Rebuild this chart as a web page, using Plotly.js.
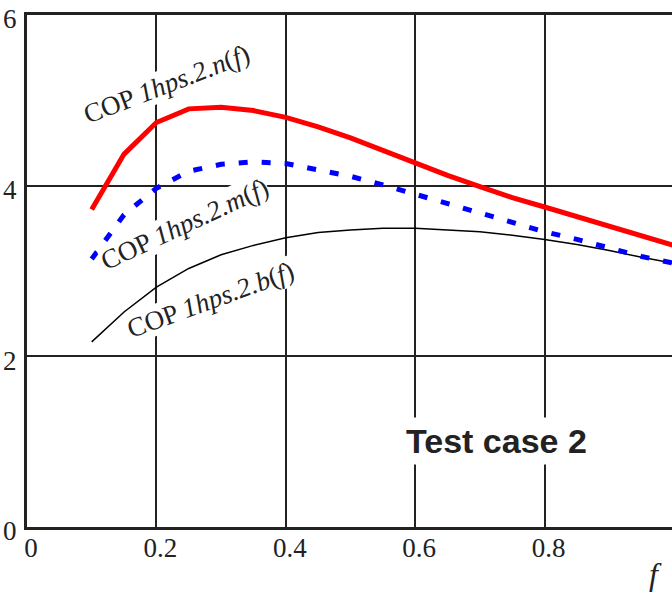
<!DOCTYPE html>
<html>
<head>
<meta charset="utf-8">
<script src="https://cdn.plot.ly/plotly-3.0.1.min.js"></script>
<style>
html,body{margin:0;padding:0;overflow:hidden;background:#fff;}
#chart{width:676px;height:596px;}
</style>
</head>
<body>
<div id="chart"></div>
<script>
const f = [0.1,0.15,0.2,0.25,0.3,0.35,0.4,0.45,0.5,0.55,0.6,0.65,0.7,0.75,0.8,0.85,0.9,0.95,1.0];
const copN = [3.72,4.37,4.74,4.90,4.92,4.88,4.80,4.69,4.56,4.41,4.26,4.12,3.99,3.86,3.75,3.64,3.52,3.41,3.30];
const copM = [3.14,3.66,3.97,4.17,4.25,4.28,4.26,4.19,4.11,4.01,3.90,3.79,3.67,3.57,3.46,3.37,3.27,3.17,3.09];
const copB = [2.17,2.52,2.81,3.03,3.19,3.30,3.39,3.45,3.48,3.50,3.50,3.48,3.46,3.42,3.37,3.31,3.24,3.16,3.09];
const xTicks = [0,0.2,0.4,0.6,0.8];
const xTickText = ['0','0.2','0.4','0.6','0.8'];
const yTicks = [0,2,4,6];
const yTickText = ['0','2','4','6'];

const serif = 'Liberation Serif, Times New Roman, serif';
const traces = [
  {x:f, y:copB, mode:'lines', line:{color:'#000', width:1.5}, hoverinfo:'none'},
  {x:f, y:copM, mode:'lines', line:{color:'#0000ff', width:5, dash:'9px,14px'}, hoverinfo:'none'},
  {x:f, y:copN, mode:'lines', line:{color:'#ff0000', width:5}, hoverinfo:'none'}
];
const layout = {
  width:676, height:596,
  margin:{l:27, r:2, t:15, b:69},
  paper_bgcolor:'#fff', plot_bgcolor:'#fff',
  showlegend:false,
  xaxis:{range:[0,1], tickvals:xTicks, ticktext:xTickText, showgrid:true, gridcolor:'#222', gridwidth:2,
    zeroline:false, showline:true, linecolor:'#222', linewidth:3, mirror:true, ticks:'',
    tickfont:{family:serif, size:27, color:'#222'}, ticklabelshift:4, ticklabelstandoff:-5, ticklabeloverflow:'allow'},
  yaxis:{range:[0,6], tickvals:yTicks, ticktext:yTickText, showgrid:true, gridcolor:'#222', gridwidth:2,
    zeroline:false, showline:true, linecolor:'#222', linewidth:3, mirror:true, ticks:'',
    tickfont:{family:serif, size:27, color:'#222'}, ticklabelshift:4, ticklabelstandoff:2, ticklabeloverflow:'allow'},
  annotations:[
    {x:0.216, y:5.19, xref:'x', yref:'y', text:'COP <i>1hps.2.n</i>(<i>f</i>)', showarrow:false, textangle:-21,
      font:{family:serif, size:27, color:'#222'}, bgcolor:'#fff', borderpad:0},
    {x:0.244, y:3.55, xref:'x', yref:'y', text:'COP <i>1hps.2.m</i>(<i>f</i>)', showarrow:false, textangle:-25,
      font:{family:serif, size:27, color:'#222'}, bgcolor:'#fff', borderpad:0},
    {x:0.283, y:2.66, xref:'x', yref:'y', text:'COP <i>1hps.2.b</i>(<i>f</i>)', showarrow:false, textangle:-20,
      font:{family:serif, size:27, color:'#222'}, bgcolor:'#fff', borderpad:0},
    {x:0.726, y:1.01, xref:'x', yref:'y', text:'<b>Test case 2</b>', showarrow:false,
      font:{family:'Liberation Sans, Arial, sans-serif', size:34, color:'#222'}, bgcolor:'#fff', borderpad:4},
    {x:0.984, y:-0.13, xref:'paper', yref:'paper', text:'<i>f</i>', showarrow:false,
      font:{family:serif, size:32, color:'#222'}}
  ]
};
Plotly.newPlot('chart', traces, layout, {staticPlot:true, displayModeBar:false});
</script>
</body>
</html>
